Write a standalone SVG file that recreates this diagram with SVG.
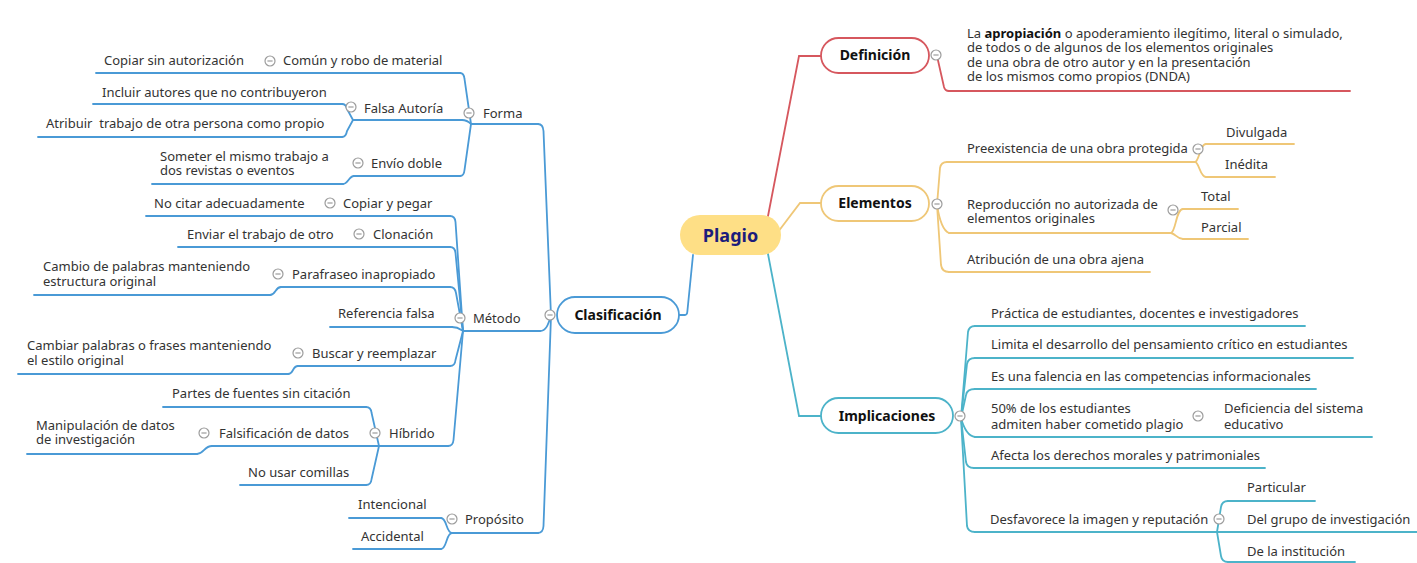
<svg xmlns="http://www.w3.org/2000/svg" xmlns:xlink="http://www.w3.org/1999/xlink" width="1417" height="563" viewBox="0 0 1417 563">
  <style>
    .t { font-family: "Noto Sans", "Liberation Sans", sans-serif; font-size: 13px; fill: #333; }
    .h { font-family: "Noto Sans", "Liberation Sans", sans-serif; font-size: 14px; font-weight: bold; fill: #111; text-anchor: middle; }
    .root { font-family: "Noto Sans", "Liberation Sans", sans-serif; font-size: 18px; font-weight: bold; fill: #1c1c7c; text-anchor: middle; }
    .bl { stroke: #4a9ad6; fill: none; stroke-width: 1.8; stroke-linecap: round; }
    .rd { stroke: #d6575e; fill: none; stroke-width: 1.8; stroke-linecap: round; }
    .or { stroke: #efc777; fill: none; stroke-width: 1.8; stroke-linecap: round; }
    .tl { stroke: #4cb3c9; fill: none; stroke-width: 1.8; stroke-linecap: round; }
    .pill { fill: #fff; stroke-width: 1.8; }
  </style>
  <defs>
    <g id="col">
      <circle r="5" fill="#fff" stroke="#9c9c9c" stroke-width="1.2"/>
      <line x1="-2.6" y1="0" x2="2.6" y2="0" stroke="#9c9c9c" stroke-width="1.2"/>
    </g>
  </defs>
  <rect width="1417" height="563" fill="#fff"/>

  <!-- connectors -->
  <g id="connectors">
    <!-- root to main topics -->
    <path class="bl" d="M679,315 L685,315 Q687,315 687.3,312 L693,255"/>
    <path class="rd" d="M768,216 L799,56 L821,56"/>
    <path class="or" d="M778,232 L800,203 L821,203"/>
    <path class="tl" d="M768,254 L799,416 L821,416"/>

    <!-- Clasificación -->
    <path class="bl" d="M538,124 Q543,124 543.5,131 L551,316"/>
    <path class="bl" d="M540,331 C546,331 548,325 551,316"/>
    <path class="bl" d="M538,533 Q543,533 543.5,526 L551,316"/>

    <!-- Forma -->
    <path class="bl" d="M460,73 Q464,73 464.5,79 L471,124"/>
    <path class="bl" d="M462,120 C467,120 469,122 471,124"/>
    <path class="bl" d="M460,176 Q464,176 464.5,170 L471,124"/>
    <path class="bl" d="M342,104 Q346,104 347,109 L353,120"/>
    <path class="bl" d="M342,137 Q346,137 347,131 L353,120"/>
    <path class="bl" d="M343,184 C348,184 349,176 354,176"/>

    <!-- Método -->
    <path class="bl" d="M450,216 Q455,216 455.5,222 L463,331"/>
    <path class="bl" d="M450,247 Q455,247 455.5,253 L463,331"/>
    <path class="bl" d="M450,287 Q455,287 456,293 L463,331"/>
    <path class="bl" d="M452,327 C458,327 460,329 463,331"/>
    <path class="bl" d="M450,366 Q455,366 455.5,360 L463,331"/>
    <path class="bl" d="M448,446 Q453,446 453.5,440 L463,331"/>
    <path class="bl" d="M270,295 C276,295 275,287 281,287"/>
    <path class="bl" d="M288,374 C294,374 292,366 298,366"/>

    <!-- Híbrido -->
    <path class="bl" d="M366,407 Q371,407 371.6,413 L379,446"/>
    <path class="bl" d="M366,485 Q371,485 371.6,479 L379,446"/>
    <path class="bl" d="M197,454 C204,454 204,446 212,446"/>

    <!-- Propósito -->
    <path class="bl" d="M441,518 C447,518 446,533 452,533"/>
    <path class="bl" d="M441,549 C447,549 446,533 452,533"/>

    <!-- Definición -->
    <path class="rd" d="M937,56 L944,87 Q945,91 949,91"/>

    <!-- Elementos -->
    <path class="or" d="M937,205 L940,168 Q941,162 947,162"/>
    <path class="or" d="M937,205 Q941,230 949,233"/>
    <path class="or" d="M937,205 L941,265 Q942,272 949,272"/>
    <path class="or" d="M1195,162 C1199,162 1200,144 1206,144"/>
    <path class="or" d="M1195,162 C1199,162 1200,177 1206,177"/>
    <path class="or" d="M1171,233 C1176,231 1176,209 1183,209"/>
    <path class="or" d="M1171,233 C1176,234 1177,239 1183,239"/>

    <!-- Implicaciones -->
    <path class="tl" d="M961,418 L968,332 Q969,326 975,326"/>
    <path class="tl" d="M961,418 L967,364 Q968,358 975,358"/>
    <path class="tl" d="M961,418 L966,395 Q967,389 975,389"/>
    <path class="tl" d="M961,418 Q966,436 975,437"/>
    <path class="tl" d="M961,418 L966,462 Q967,468 974,468"/>
    <path class="tl" d="M961,418 L967,526 Q968,532 975,532"/>
    <path class="tl" d="M1217,532 L1221,507 Q1222,501 1228,501"/>
    <path class="tl" d="M1217,532 L1221,556 Q1222,562 1228,562"/>
  </g>

  <!-- central topic -->
  <g id="plagio">
    <rect x="680" y="215" width="101" height="40" rx="20" fill="#fedf86"/>
    <text class="root" x="730.5" y="242">Plagio</text>
  </g>

  <!-- left: Clasificación -->
  <g id="clasificacion">
    <rect class="pill" x="557" y="297" width="122" height="36" rx="18" stroke="#4a9ad6"/>
    <text class="h" x="618" y="320">Clasificación</text>
    <use xlink:href="#col" x="550" y="315"/>
  </g>

  <g id="forma">
    <line class="bl" x1="471" y1="124" x2="538" y2="124"/>
    <text class="t" x="483" y="118">Forma</text>
    <use xlink:href="#col" x="469" y="113"/>
  </g>
  <g id="comun">
    <line class="bl" x1="276" y1="73" x2="460" y2="73"/>
    <text class="t" x="283" y="65">Común y robo de material</text>
    <use xlink:href="#col" x="270" y="61"/>
  </g>
  <g id="copiar-sin">
    <line class="bl" x1="96" y1="73" x2="276" y2="73"/>
    <text class="t" x="104" y="65">Copiar sin autorización</text>
  </g>
  <g id="falsa-autoria">
    <line class="bl" x1="353" y1="120" x2="462" y2="120"/>
    <text class="t" x="364" y="113">Falsa Autoría</text>
    <use xlink:href="#col" x="351" y="107"/>
  </g>
  <g id="incluir">
    <line class="bl" x1="93" y1="104" x2="342" y2="104"/>
    <text class="t" x="102" y="97">Incluir autores que no contribuyeron</text>
  </g>
  <g id="atribuir">
    <line class="bl" x1="38" y1="137" x2="342" y2="137"/>
    <text class="t" x="46" y="128" xml:space="preserve">Atribuir  trabajo de otra persona como propio</text>
  </g>
  <g id="envio-doble">
    <line class="bl" x1="354" y1="176" x2="460" y2="176"/>
    <text class="t" x="371" y="168">Envío doble</text>
    <use xlink:href="#col" x="358" y="163"/>
  </g>
  <g id="someter">
    <line class="bl" x1="152" y1="184" x2="343" y2="184"/>
    <text class="t" x="160" y="161">Someter el mismo trabajo a<tspan x="160" dy="14">dos revistas o eventos</tspan></text>
  </g>

  <g id="metodo">
    <line class="bl" x1="463" y1="331" x2="540" y2="331"/>
    <text class="t" x="473" y="323">Método</text>
    <use xlink:href="#col" x="460" y="318"/>
  </g>
  <g id="copiar-pegar">
    <line class="bl" x1="335" y1="216" x2="450" y2="216"/>
    <text class="t" x="343" y="208">Copiar y pegar</text>
    <use xlink:href="#col" x="330" y="203"/>
  </g>
  <g id="no-citar">
    <line class="bl" x1="146" y1="216" x2="335" y2="216"/>
    <text class="t" x="154" y="208">No citar adecuadamente</text>
  </g>
  <g id="clonacion">
    <line class="bl" x1="364" y1="247" x2="450" y2="247"/>
    <text class="t" x="373" y="239">Clonación</text>
    <use xlink:href="#col" x="359" y="234"/>
  </g>
  <g id="enviar">
    <line class="bl" x1="178" y1="247" x2="364" y2="247"/>
    <text class="t" x="187" y="239">Enviar el trabajo de otro</text>
  </g>
  <g id="parafraseo">
    <line class="bl" x1="281" y1="287" x2="450" y2="287"/>
    <text class="t" x="292" y="279">Parafraseo inapropiado</text>
    <use xlink:href="#col" x="278" y="274"/>
  </g>
  <g id="cambio">
    <line class="bl" x1="34" y1="295" x2="270" y2="295"/>
    <text class="t" x="43" y="271">Cambio de palabras manteniendo<tspan x="43" dy="15">estructura original</tspan></text>
  </g>
  <g id="referencia">
    <line class="bl" x1="330" y1="327" x2="452" y2="327"/>
    <text class="t" x="338" y="318">Referencia falsa</text>
  </g>
  <g id="buscar">
    <line class="bl" x1="298" y1="366" x2="450" y2="366"/>
    <text class="t" x="312" y="358">Buscar y reemplazar</text>
    <use xlink:href="#col" x="298" y="353"/>
  </g>
  <g id="cambiar">
    <line class="bl" x1="18" y1="374" x2="288" y2="374"/>
    <text class="t" x="27" y="350">Cambiar palabras o frases manteniendo<tspan x="27" dy="15">el estilo original</tspan></text>
  </g>
  <g id="hibrido">
    <line class="bl" x1="379" y1="446" x2="448" y2="446"/>
    <text class="t" x="389" y="438">Híbrido</text>
    <use xlink:href="#col" x="375" y="433"/>
  </g>
  <g id="partes">
    <line class="bl" x1="163" y1="407" x2="366" y2="407"/>
    <text class="t" x="172" y="398">Partes de fuentes sin citación</text>
  </g>
  <g id="falsificacion">
    <line class="bl" x1="212" y1="446" x2="379" y2="446"/>
    <text class="t" x="219" y="438">Falsificación de datos</text>
    <use xlink:href="#col" x="204" y="433"/>
  </g>
  <g id="manipulacion">
    <line class="bl" x1="27" y1="454" x2="197" y2="454"/>
    <text class="t" x="36" y="430">Manipulación de datos<tspan x="36" dy="14">de investigación</tspan></text>
  </g>
  <g id="comillas">
    <line class="bl" x1="240" y1="485" x2="366" y2="485"/>
    <text class="t" x="248" y="477">No usar comillas</text>
  </g>
  <g id="proposito">
    <line class="bl" x1="452" y1="533" x2="538" y2="533"/>
    <text class="t" x="465" y="524">Propósito</text>
    <use xlink:href="#col" x="452" y="519"/>
  </g>
  <g id="intencional">
    <line class="bl" x1="349" y1="518" x2="441" y2="518"/>
    <text class="t" x="358" y="509">Intencional</text>
  </g>
  <g id="accidental">
    <line class="bl" x1="353" y1="549" x2="441" y2="549"/>
    <text class="t" x="361" y="541">Accidental</text>
  </g>

  <!-- right: Definición -->
  <g id="definicion">
    <rect class="pill" x="821" y="38" width="108" height="35" rx="17.5" stroke="#d6575e"/>
    <text class="h" x="875" y="60">Definición</text>
    <use xlink:href="#col" x="936" y="55"/>
  </g>
  <g id="definicion-texto">
    <line class="rd" x1="949" y1="91" x2="1350" y2="91"/>
    <text class="t" x="967" y="38">La <tspan font-weight="bold" fill="#111">apropiación</tspan> o apoderamiento ilegítimo, literal o simulado,<tspan x="967" dy="14.3">de todos o de algunos de los elementos originales</tspan><tspan x="967" dy="14.3">de una obra de otro autor y en la presentación</tspan><tspan x="967" dy="14.3">de los mismos como propios (DNDA)</tspan></text>
  </g>

  <!-- right: Elementos -->
  <g id="elementos">
    <rect class="pill" x="821" y="186" width="108" height="35" rx="17.5" stroke="#efc777"/>
    <text class="h" x="875" y="208">Elementos</text>
    <use xlink:href="#col" x="937" y="204"/>
  </g>
  <g id="preexistencia">
    <line class="or" x1="947" y1="162" x2="1195" y2="162"/>
    <text class="t" x="967" y="153">Preexistencia de una obra protegida</text>
    <use xlink:href="#col" x="1198" y="149"/>
  </g>
  <g id="divulgada">
    <line class="or" x1="1206" y1="144" x2="1294" y2="144"/>
    <text class="t" x="1226" y="137">Divulgada</text>
  </g>
  <g id="inedita">
    <line class="or" x1="1206" y1="177" x2="1275" y2="177"/>
    <text class="t" x="1225" y="169">Inédita</text>
  </g>
  <g id="reproduccion">
    <line class="or" x1="949" y1="233" x2="1171" y2="233"/>
    <text class="t" x="967" y="209">Reproducción no autorizada de<tspan x="967" dy="14">elementos originales</tspan></text>
    <use xlink:href="#col" x="1173" y="210"/>
  </g>
  <g id="total">
    <line class="or" x1="1183" y1="209" x2="1238" y2="209"/>
    <text class="t" x="1201" y="201">Total</text>
  </g>
  <g id="parcial">
    <line class="or" x1="1183" y1="239" x2="1248" y2="239"/>
    <text class="t" x="1201" y="232">Parcial</text>
  </g>
  <g id="atribucion">
    <line class="or" x1="949" y1="272" x2="1150" y2="272"/>
    <text class="t" x="967" y="264">Atribución de una obra ajena</text>
  </g>

  <!-- right: Implicaciones -->
  <g id="implicaciones">
    <rect class="pill" x="821" y="398" width="132" height="35" rx="17.5" stroke="#4cb3c9"/>
    <text class="h" x="887" y="421">Implicaciones</text>
    <use xlink:href="#col" x="960" y="416"/>
  </g>
  <g id="practica">
    <line class="tl" x1="975" y1="326" x2="1305" y2="326"/>
    <text class="t" x="991" y="318">Práctica de estudiantes, docentes e investigadores</text>
  </g>
  <g id="limita">
    <line class="tl" x1="975" y1="358" x2="1353" y2="358"/>
    <text class="t" x="991" y="349">Limita el desarrollo del pensamiento crítico en estudiantes</text>
  </g>
  <g id="falencia">
    <line class="tl" x1="975" y1="389" x2="1316" y2="389"/>
    <text class="t" x="991" y="381">Es una falencia en las competencias informacionales</text>
  </g>
  <g id="cincuenta">
    <line class="tl" x1="975" y1="437" x2="1190" y2="437"/>
    <text class="t" x="991" y="413">50% de los estudiantes<tspan x="991" dy="16">admiten haber cometido plagio</tspan></text>
    <use xlink:href="#col" x="1198" y="416"/>
  </g>
  <g id="deficiencia">
    <line class="tl" x1="1190" y1="437" x2="1372" y2="437"/>
    <text class="t" x="1224" y="413">Deficiencia del sistema<tspan x="1224" dy="16">educativo</tspan></text>
  </g>
  <g id="afecta">
    <line class="tl" x1="974" y1="468" x2="1265" y2="468"/>
    <text class="t" x="991" y="460">Afecta los derechos morales y patrimoniales</text>
  </g>
  <g id="desfavorece">
    <line class="tl" x1="975" y1="532" x2="1217" y2="532"/>
    <text class="t" x="990" y="524">Desfavorece la imagen y reputación</text>
    <use xlink:href="#col" x="1219" y="519"/>
  </g>
  <g id="particular">
    <line class="tl" x1="1228" y1="501" x2="1315" y2="501"/>
    <text class="t" x="1247" y="492">Particular</text>
  </g>
  <g id="grupo">
    <line class="tl" x1="1217" y1="532" x2="1417" y2="532"/>
    <text class="t" x="1247" y="524">Del grupo de investigación</text>
  </g>
  <g id="institucion">
    <line class="tl" x1="1228" y1="562" x2="1355" y2="562"/>
    <text class="t" x="1247" y="556">De la institución</text>
  </g>
</svg>
